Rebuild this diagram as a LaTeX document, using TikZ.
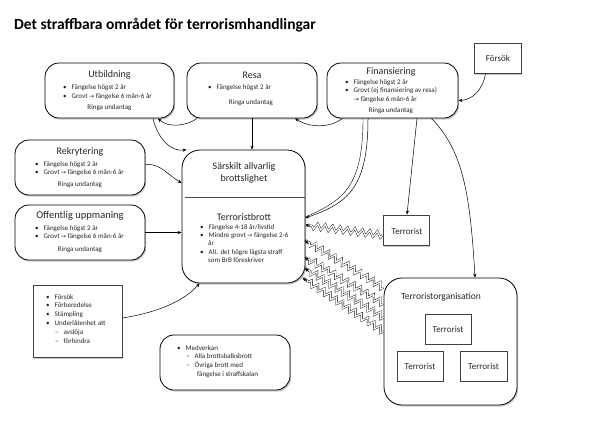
\documentclass[tikz,border=0pt]{standalone}
\usepackage{fontspec}
\setmainfont{Carlito}
\newfontfamily\sym{DejaVu Sans}
\newfontfamily\ttlfont{Carlito}
\usetikzlibrary{shadows,decorations.pathmorphing,arrows.meta,calc}
\newcommand{\ar}{{\sym\fontsize{6}{6}\selectfont →}}
\newcommand{\bl}{\textbullet\hspace{5pt}}
\newcommand{\dl}{--\hspace{5pt}}
\tikzset{
 shd/.style={drop shadow={shadow xshift=1.2pt, shadow yshift=-1.6pt, opacity=0.35, fill=black!60}},
 rbox/.style={draw=black, line width=0.8pt, rounded corners=14pt, fill=white, shd, inner sep=0},
 sbox/.style={draw=black!75, line width=0.9pt, fill=white, shd, inner sep=0},
 tbox/.style={draw=black!75, line width=0.8pt, fill=white, inner sep=0, font=\fontsize{9}{10}\selectfont, text=black!85},
 ttl/.style={font=\fontsize{10}{11}\selectfont, inner sep=0, text=black!85},
 lst/.style={font=\fontsize{7}{8.8}\selectfont, align=left, inner sep=0, anchor=north west, text=black!85},
 rng/.style={font=\fontsize{7}{8}\selectfont, inner sep=0, text=black!85},
 arr/.style={-{Stealth[length=4pt,width=3.2pt]}, line width=0.5pt},
 zz/.style={decorate, decoration={zigzag, segment length=7.5pt, amplitude=3pt, post length=4pt}, draw=black, double=white, double distance=1.3pt, line width=0.4pt}
}
\begin{document}
\begin{tikzpicture}[x=1pt,y=-1pt]
\useasboundingbox (0,0) rectangle (596,421);
\fill[white] (0,0) rectangle (596,421);
% title
\node[anchor=base west, inner sep=0, font=\ttlfont\bfseries\fontsize{15.5}{17}\selectfont] (title) at (14,29) {Det straffbara området för terrorismhandlingar};

% boxes
\node[rbox, minimum width=129, minimum height=55] (utb) at (109.5,90.5) {};
\node[rbox, minimum width=130, minimum height=55] (resa) at (252,90.5) {};
\node[rbox, minimum width=131, minimum height=55] (fin) at (392.5,90.5) {};
\node[sbox, minimum width=47, minimum height=30] (fors) at (497.5,58) {};
\node[rbox, minimum width=130, minimum height=55] (rek) at (80,167.5) {};
\node[rbox, minimum width=130, minimum height=55] (off) at (80,232.5) {};
\node[rbox, rounded corners=18pt, minimum width=123, minimum height=133] (cen) at (243.5,216.5) {};
\node[sbox, minimum width=46, minimum height=30] (ter) at (406,230) {};
\node[rbox, rounded corners=18pt, minimum width=133, minimum height=127] (org) at (450.5,341.5) {};
\node[sbox, minimum width=89, minimum height=72] (lista) at (77.5,321) {};
\node[rbox, minimum width=130, minimum height=55] (medv) at (225,362.5) {};

% Utbildning
\node[ttl] (utbT) at (109.5,75) {Utbildning};
\node[lst] (utbL) at (63,84.5) {\bl Fängelse högst 2 år\\ \bl Grovt \ar\ fängelse 6 mån-6 år};
\node[rng] (utbR) at (109.5,108) {Ringa undantag};
% Resa
\node[ttl] (resaT) at (252,75) {Resa};
\node[lst] (resaL) at (208,84.5) {\bl Fängelse högst 2 år};
\node[rng] (resaR) at (251,103) {Ringa undantag};
% Finansiering
\node[ttl] (finT) at (391,72) {Finansiering};
\node[lst, font=\fontsize{7}{8.6}\selectfont] (finL) at (345,79) {\bl Fängelse högst 2 år\\ \bl Grovt (ej finansiering av resa)\\ \hspace{9pt}\ar\ fängelse 6 mån-6 år};
\node[rng] (finR) at (391,111) {Ringa undantag};
% Försök
\node[font=\fontsize{9}{10}\selectfont, inner sep=0, text=black!85] (forsT) at (498,58) {Försök};
% Rekrytering
\node[ttl] (rekT) at (80,152) {Rekrytering};
\node[lst] (rekL) at (35,161) {\bl Fängelse högst 2 år\\ \bl Grovt \ar\ fängelse 6 mån-6 år};
\node[rng] (rekR) at (80,185) {Ringa undantag};
% Offentlig uppmaning
\node[ttl, font=\fontsize{10.5}{12}\selectfont] (offT) at (80,216) {Offentlig uppmaning};
\node[lst] (offL) at (35,225) {\bl Fängelse högst 2 år\\ \bl Grovt \ar\ fängelse 6 mån-6 år};
\node[rng] (offR) at (80,250) {Ringa undantag};
% Central
\node[ttl, align=center, font=\fontsize{10}{12}\selectfont] (cenT) at (244,173) {Särskilt allvarlig\\ brottslighet};
\draw[line width=0.5pt, black!70] (cen.west |- 0,197) ++(3,0) coordinate (dvA) -- (cen.east |- 0,197) ++(-3,0) coordinate (dvB);
\node[ttl] (cenT2) at (244,217) {Terroristbrott};
\node[lst, font=\fontsize{7}{7.8}\selectfont] (cenL) at (200,224) {\bl Fängelse 4-18 år/livstid\\[1pt] \bl Mindre grovt \ar\ fängelse 2-6\\ \hspace{8pt}år\\[1pt] \bl Alt. det högre lägsta straff\\ \hspace{8pt}som BrB föreskriver};
% Terrorist
\node[font=\fontsize{9}{10}\selectfont, inner sep=0, text=black!85] (terT) at (407,231) {Terrorist};
% Org
\node[font=\fontsize{9.5}{10}\selectfont, inner sep=0, text=black!85] (orgT) at (441,297) {Terroristorganisation};
\node[tbox, minimum width=46, minimum height=30] (t1) at (448,329) {Terrorist};
\node[tbox, minimum width=46, minimum height=30] (t2) at (420,366) {Terrorist};
\node[tbox, minimum width=47, minimum height=30] (t3) at (483.5,366) {Terrorist};
% lista
\node[lst] (listaL) at (46,294) {\bl Försök\\ \bl Förberedelse\\ \bl Stämpling\\ \bl Underlåtenhet att\\ \hspace{9pt}\dl avslöja\\ \hspace{9pt}\dl förhindra};
% Medverkan
\node[lst] (medvL) at (177,345) {\bl Medverkan\\ \hspace{9pt}\dl Alla brottsbalksbrott\\ \hspace{9pt}\dl Övriga brott med\\ \hspace{20pt}fängelse i straffskalan};

% connectors
\draw[arr] (resa.south) -- (resa.south |- cen.north);
\draw[arr] ([xshift=-55pt]resa.south) .. controls (187,126) and (168,128) .. ([xshift=48.5pt]utb.south);
\draw[arr] ([xshift=-50pt]fin.south) .. controls (330,128) and (310,128) .. ([xshift=43pt]resa.south);
\draw[arr] ([xshift=43.5pt]utb.south) .. controls (158,140) and (172,152) .. ([xshift=-57pt]cen.north);
\draw[arr] (rek.east) ++(0,-3) coordinate (rk1) .. controls (160,163) and (168,175) .. (cen.west |- 0,183);
\draw[arr] (off.east) -- (cen.west |- off.east);
\draw[arr] (lista.east) ++(0,-3) coordinate (ls1) .. controls (160,312) and (185,300) .. ([xshift=-44pt]cen.south);
\draw[arr] ([xshift=-12pt]fors.south) .. controls (483,90) and (472,100) .. ([yshift=-10pt]fin.east);
\draw ([xshift=-29.5pt]fin.south) .. controls (363,185) and (345,200) .. (cen.east |- 0,217);
\draw[arr] ([xshift=-24.5pt]fin.south) .. controls (368,188) and (348,203) .. (cen.east |- 0,218);
\draw[arr] ([xshift=24.5pt]fin.south) -- ([xshift=1pt]ter.north);
\draw[arr] ([xshift=39pt]fin.south) .. controls (462,150) and (470,190) .. ([xshift=24.5pt]org.north);

% zigzags
\coordinate (z1) at (305,225);
\coordinate (z2) at (305,240);
\coordinate (z3) at (305,257);
\coordinate (z4) at (305,268);
\coordinate (z5) at (303,278);
\draw[zz] ([yshift=-5pt]ter.west) -- (z1);
\draw[zz] ([yshift=54pt]org.west) -- (z2);
\draw[zz] ([yshift=38pt]org.west) -- (z3);
\draw[zz] ([yshift=24pt]org.west) -- (z4);
\draw[zz] ([yshift=10pt]org.west) -- (z5);
\foreach \z/\s in {z1/ter.west, z2/org.west, z3/org.west, z4/org.west, z5/org.west}
  \draw[arr] ($(\z)!5pt!(\s)$) -- (\z);
\end{tikzpicture}
\end{document}
